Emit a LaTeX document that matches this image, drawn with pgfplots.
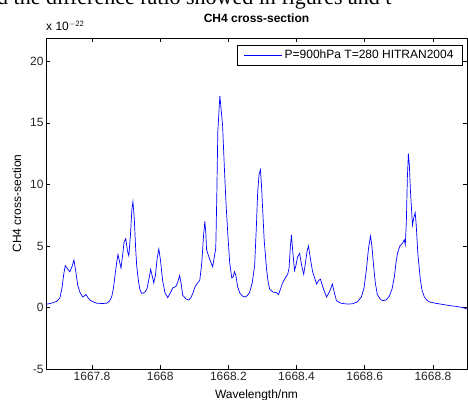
\documentclass[border=0pt]{standalone}
\usepackage{fontspec}
\setmainfont{Liberation Sans}
\newfontfamily\serifpaper{Liberation Serif}
\usepackage{pgfplots}
\pgfplotsset{compat=1.18}
\begin{document}
\begin{tikzpicture}[x=1pt,y=1pt]
\useasboundingbox (0,0) rectangle (468,399);
\node[anchor=base west,inner sep=0pt,font=\serifpaper\fontsize{22}{24}\selectfont] at (-3,394) {d the difference ratio showed in figures and t};
\begin{axis}[
  at={(46pt,30pt)}, anchor=south west,
  scale only axis, width=421pt, height=331pt,
  xmin=1667.665, xmax=1668.9,
  ymin=-5, ymax=21.9,
  xtick={1667.8,1668,1668.2,1668.4,1668.6,1668.8},
  xticklabels={1667.8,1668,1668.2,1668.4,1668.6,1668.8},
  ytick={-5,0,5,10,15,20},
  tick align=inside, major tick length=4.5pt,
  tick style={black, line width=0.6pt},
  axis line style={black, line width=0.6pt},
  /pgf/number format/assume math mode=true,
  tick label style={font=\fontsize{12}{14}\selectfont, text=black!85},
  xticklabel style={yshift=0pt},
  yticklabel style={xshift=1pt},
  ylabel={CH4 cross-section},
  ylabel style={font=\fontsize{12}{14}\selectfont, at={(axis description cs:-0.069,0.5)}, anchor=center},
  xlabel={Wavelength/nm},
  xlabel style={font=\fontsize{12}{14}\selectfont, at={(axis description cs:0.5,-0.0785)}, anchor=center},
  title={\textbf{CH4 cross-section}},
  title style={font=\fontsize{12}{14}\selectfont, at={(axis description cs:0.5,1.042)}, anchor=center},
  legend style={at={(axis description cs:0.99,0.979)}, anchor=north east, draw=black, line width=0.6pt, font=\fontsize{12}{14}\selectfont, inner xsep=7pt, inner ysep=3pt, legend cell align=left},
  legend image code/.code={\draw[#1, line width=0.7pt] (0pt,0pt) -- (38pt,0pt);},
  clip=true,
]
\addplot[blue, line width=0.7pt] coordinates {
(1667.665,0.25) (1667.668,0.27) (1667.685,0.38) (1667.697,0.5) (1667.706,0.8)
(1667.712,1.6) (1667.717,2.7) (1667.7215,3.4) (1667.728,3.15) (1667.735,2.9)
(1667.741,3.3) (1667.747,3.85) (1667.752,3.0) (1667.758,1.8) (1667.765,1.2)
(1667.773,0.85) (1667.778,0.95) (1667.782,1.05) (1667.788,0.8) (1667.794,0.6)
(1667.804,0.45) (1667.814,0.35) (1667.830,0.32) (1667.844,0.35) (1667.852,0.55)
(1667.858,0.9) (1667.863,1.6) (1667.867,2.5) (1667.872,3.6) (1667.876,4.3)
(1667.881,3.7) (1667.885,3.2) (1667.890,4.3) (1667.894,5.3) (1667.899,5.6)
(1667.904,4.6) (1667.908,4.2) (1667.913,6.0) (1667.917,8.0) (1667.920,8.6)
(1667.924,7.2) (1667.928,4.8) (1667.931,3.4) (1667.936,2.2) (1667.940,1.5)
(1667.945,1.15) (1667.949,1.15) (1667.955,1.25) (1667.961,1.5) (1667.967,2.3)
(1667.972,3.1) (1667.977,2.5) (1667.981,2.0) (1667.986,2.6) (1667.991,4.0)
(1667.996,4.75) (1668.001,3.8) (1668.007,2.2) (1668.014,1.2) (1668.022,0.8)
(1668.030,1.2) (1668.037,1.6) (1668.046,1.7) (1668.052,2.1) (1668.057,2.6)
(1668.061,2.0) (1668.066,1.0) (1668.075,0.7) (1668.084,0.6) (1668.090,0.8)
(1668.095,1.1) (1668.101,1.6) (1668.107,1.9) (1668.116,2.2) (1668.122,3.6)
(1668.127,5.8) (1668.131,7.0) (1668.134,6.0) (1668.136,4.7) (1668.144,4.0)
(1668.154,3.3) (1668.158,4.0) (1668.163,4.8) (1668.166,9.0) (1668.169,14.3)
(1668.175,17.2) (1668.179,16.0) (1668.183,14.8) (1668.188,11.5) (1668.193,8.5)
(1668.198,6.1) (1668.204,3.6) (1668.210,2.4) (1668.214,2.5) (1668.218,2.9)
(1668.222,2.6) (1668.227,1.7) (1668.233,1.2) (1668.240,0.95) (1668.248,0.85)
(1668.255,0.95) (1668.262,1.2) (1668.270,2.0) (1668.277,3.4) (1668.282,6.5)
(1668.286,9.4) (1668.290,10.8) (1668.294,11.2) (1668.297,10.0) (1668.300,8.3)
(1668.305,5.5) (1668.312,3.1) (1668.317,2.0) (1668.321,1.5) (1668.331,1.25)
(1668.341,1.2) (1668.347,1.05) (1668.353,1.5) (1668.359,2.0) (1668.367,2.4)
(1668.374,2.7) (1668.378,3.2) (1668.382,5.0) (1668.385,5.9) (1668.389,4.5)
(1668.394,3.0) (1668.398,3.4) (1668.403,4.1) (1668.409,4.4) (1668.415,3.4)
(1668.421,2.7) (1668.426,3.6) (1668.431,4.6) (1668.435,5.0) (1668.441,3.9)
(1668.447,2.9) (1668.453,2.4) (1668.459,1.9) (1668.465,2.2) (1668.470,2.3)
(1668.479,1.5) (1668.488,0.85) (1668.497,1.3) (1668.505,1.9) (1668.511,1.2)
(1668.517,0.55) (1668.530,0.35) (1668.541,0.3) (1668.553,0.28) (1668.564,0.3)
(1668.578,0.45) (1668.590,0.85) (1668.598,1.6) (1668.605,3.1) (1668.611,4.8)
(1668.617,5.8) (1668.621,5.0) (1668.626,3.4) (1668.631,2.0) (1668.637,1.05)
(1668.645,0.7) (1668.652,0.55) (1668.662,0.6) (1668.672,0.9) (1668.680,1.5)
(1668.687,2.5) (1668.691,3.5) (1668.696,4.4) (1668.703,5.0) (1668.710,5.2)
(1668.716,5.5) (1668.719,5.1) (1668.722,6.9) (1668.725,10.5) (1668.728,12.5)
(1668.731,11.5) (1668.734,9.5) (1668.737,8.1) (1668.740,6.7) (1668.744,7.3)
(1668.748,7.7) (1668.751,6.7) (1668.756,4.3) (1668.763,2.3) (1668.768,1.4)
(1668.775,0.85) (1668.782,0.6) (1668.790,0.45) (1668.810,0.33) (1668.828,0.25)
(1668.850,0.15) (1668.870,0.08) (1668.886,0.0) (1668.9,-0.12)
};
\addlegendentry{P=900hPa T=280 HITRAN2004}
\end{axis}
\node[anchor=base west, inner sep=0pt, font=\fontsize{12}{14}\selectfont] at (46,368) {x 10$^{\mathsf{-22}}$};
\end{tikzpicture}
\end{document}
